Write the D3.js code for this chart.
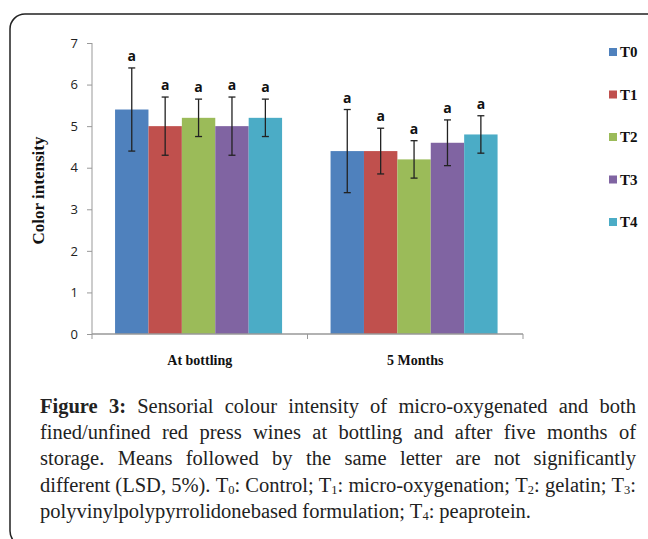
<!DOCTYPE html>
<html>
<head>
<meta charset="utf-8">
<script src="https://d3js.org/d3.v7.min.js"></script>
<style>
  body { margin: 0; background: #fff; }
</style>
</head>
<body>
<div id="chart"></div>
<script>
var categories = ['At bottling', '5 Months'];
var treatments = ['T0', 'T1', 'T2', 'T3', 'T4'];
var colors = ['#4F81BD', '#C0504D', '#9BBB59', '#8064A2', '#4BACC6'];
var meansBottling = [5.4, 5.0, 5.2, 5.0, 5.2];
var meansMonths = [4.4, 4.4, 4.2, 4.6, 4.8];
var errBottling = [1.0, 0.7, 0.45, 0.7, 0.45];
var errMonths = [1.0, 0.55, 0.45, 0.55, 0.45];
var letters = ['a', 'a', 'a', 'a', 'a'];
var yTicks = [0, 1, 2, 3, 4, 5, 6, 7];

// caption lines, [text, kind] where kind: b = bold, s = subscript
var captionLines = [
    [['Figure 3:', 'b'], [' Sensorial colour intensity of micro-oxygenated and both', '']],
    [['fined/unfined red press wines at bottling and after five months of', '']],
    [['storage. Means followed by the same letter are not significantly', '']],
    [['different (LSD, 5%). T', ''], ['0', 's'], [': Control; T', ''], ['1', 's'], [': micro-oxygenation; T', ''], ['2', 's'], [': gelatin; T', ''], ['3', 's'], [':', '']],
    [['polyvinylpolypyrrolidonebased formulation; T', ''], ['4', 's'], [': peaprotein.', '']]
];

var width = 648, height = 539;
var svg = d3.select('#chart').append('svg')
    .attr('width', width)
    .attr('height', height);

// frame
svg.append('rect')
    .attr('x', 10).attr('y', 14)
    .attr('width', 680).attr('height', 532)
    .attr('rx', 15).attr('ry', 15)
    .attr('fill', 'none')
    .attr('stroke', '#222')
    .attr('stroke-width', 1.5);

var padding = {top: 43, left: 92, right: 523, bottom: 334};

var yScale = d3.scaleLinear().domain([0, 7]).range([padding.bottom, padding.top]);
var x0 = d3.scaleBand().domain(categories).range([padding.left, padding.right]);
var bw = x0.bandwidth();
var x1 = d3.scaleBand().domain(treatments).range([bw * 0.107, bw * 0.882]);

var data = [];
categories.forEach(function(c, ci){
    var means = ci == 0 ? meansBottling : meansMonths;
    var errs = ci == 0 ? errBottling : errMonths;
    treatments.forEach(function(t, ti){
        data.push({cat: c, t: t, v: means[ti], e: errs[ti], color: colors[ti], letter: letters[ti]});
    });
});

var plot = svg.append('g').attr('class', 'plot');

plot.selectAll('rect.bar')
    .data(data)
    .enter()
    .append('rect')
    .attr('class', 'bar')
    .attr('x', function(d){ return x0(d.cat) + x1(d.t); })
    .attr('y', function(d){ return yScale(d.v); })
    .attr('width', x1.bandwidth())
    .attr('height', function(d){ return yScale(0) - yScale(d.v); })
    .attr('fill', function(d){ return d.color; });

// error bars
var eb = plot.selectAll('g.err')
    .data(data)
    .enter()
    .append('g')
    .attr('class', 'err')
    .attr('stroke', '#222')
    .attr('stroke-width', 1.3);

function cx(d){ return x0(d.cat) + x1(d.t) + x1.bandwidth() / 2; }

eb.append('line')
    .attr('x1', cx).attr('x2', cx)
    .attr('y1', function(d){ return yScale(d.v + d.e); })
    .attr('y2', function(d){ return yScale(d.v - d.e); });
eb.append('line')
    .attr('x1', function(d){ return cx(d) - 3.5; }).attr('x2', function(d){ return cx(d) + 3.5; })
    .attr('y1', function(d){ return yScale(d.v + d.e); })
    .attr('y2', function(d){ return yScale(d.v + d.e); });
eb.append('line')
    .attr('x1', function(d){ return cx(d) - 3.5; }).attr('x2', function(d){ return cx(d) + 3.5; })
    .attr('y1', function(d){ return yScale(d.v - d.e); })
    .attr('y2', function(d){ return yScale(d.v - d.e); });

plot.selectAll('text.letter')
    .data(data)
    .enter()
    .append('text')
    .attr('class', 'letter')
    .attr('x', cx)
    .attr('y', function(d){ return yScale(d.v + d.e) - 7; })
    .attr('text-anchor', 'middle')
    .attr('font-family', 'Open Sans, DejaVu Sans, sans-serif')
    .attr('font-weight', 'bold')
    .attr('font-size', 14)
    .attr('fill', '#111')
    .text(function(d){ return d.letter; });

// axes
var yAxis = d3.axisLeft(yScale).tickValues(yTicks).tickSize(5).tickPadding(9).tickFormat(d3.format('d'));
var gy = svg.append('g')
    .attr('transform', 'translate(' + padding.left + ',0)')
    .call(yAxis);
gy.select('.domain').remove();
gy.append('line')
    .attr('x1', 0).attr('x2', 0)
    .attr('y1', padding.top).attr('y2', padding.bottom + 5)
    .attr('stroke', '#999');
gy.selectAll('.tick line').attr('stroke', '#999');
gy.selectAll('.tick text')
    .attr('font-family', 'Open Sans, DejaVu Sans, sans-serif')
    .attr('font-size', 13)
    .attr('fill', '#222');

var gx = svg.append('g');
gx.append('line')
    .attr('x1', padding.left).attr('x2', padding.right)
    .attr('y1', padding.bottom).attr('y2', padding.bottom)
    .attr('stroke', '#999').attr('stroke-width', 1.3);
gx.selectAll('line.xt')
    .data(categories)
    .enter()
    .append('line')
    .attr('class', 'xt')
    .attr('x1', function(d){ return x0(d) + bw; })
    .attr('x2', function(d){ return x0(d) + bw; })
    .attr('y1', padding.bottom).attr('y2', padding.bottom + 5)
    .attr('stroke', '#999');
gx.selectAll('text')
    .data(categories)
    .enter()
    .append('text')
    .attr('x', function(d){ return x0(d) + bw / 2; })
    .attr('y', 365)
    .attr('text-anchor', 'middle')
    .attr('font-family', 'Liberation Serif, serif')
    .attr('font-weight', 'bold')
    .attr('font-size', 14)
    .attr('fill', '#111')
    .text(function(d){ return d; });

svg.append('text')
    .attr('transform', 'translate(44,' + ((padding.top + padding.bottom) / 2 + 2) + ') rotate(-90)')
    .attr('text-anchor', 'middle')
    .attr('font-family', 'Liberation Serif, serif')
    .attr('font-weight', 'bold')
    .attr('font-size', 17)
    .attr('fill', '#111')
    .text('Color intensity');

// legend
var legend = svg.selectAll('g.legend')
    .data(treatments)
    .enter()
    .append('g')
    .attr('class', 'legend')
    .attr('transform', function(d, i){ return 'translate(609,' + (52 + i * 42.5) + ')'; });
legend.append('rect')
    .attr('x', 0).attr('y', -4)
    .attr('width', 8).attr('height', 8)
    .attr('fill', function(d, i){ return colors[i]; });
legend.append('text')
    .attr('x', 11).attr('y', 5)
    .attr('font-family', 'Liberation Serif, serif')
    .attr('font-weight', 'bold')
    .attr('font-size', 15)
    .attr('fill', '#111')
    .text(function(d){ return d; });

// caption: words laid out one by one, justified except the last line
var capLeft = 40, capWidth = 596;
var cap = svg.append('g')
    .attr('font-family', 'Liberation Serif, serif')
    .attr('font-size', 20.5)
    .attr('fill', '#222');

captionLines.forEach(function(line, li){
    var words = [[]];
    line.forEach(function(seg){
        if (seg[1] == 's') {
            words[words.length - 1].push(seg);
            return;
        }
        var parts = seg[0].split(' ');
        parts.forEach(function(p, pi){
            if (pi > 0) words.push([]);
            if (p.length) words[words.length - 1].push([p, seg[1]]);
        });
    });
    words = words.filter(function(w){ return w.length; });

    var y = 413 + li * 26.2;
    var nodes = words.map(function(w){
        var t = cap.append('text').attr('y', y);
        var shifted = false;
        w.forEach(function(seg){
            var ts = t.append('tspan').text(seg[0]);
            if (seg[1] == 'b') ts.attr('font-weight', 'bold');
            if (seg[1] == 's') {
                ts.attr('font-size', 12.5).attr('dy', 2);
                shifted = true;
            } else if (shifted) {
                ts.attr('dy', -2);
                shifted = false;
            }
        });
        return t;
    });
    var widths = nodes.map(function(n){ return n.node().getComputedTextLength(); });
    var total = d3.sum(widths);
    var gap = li < captionLines.length - 1 ? Math.max(3, (capWidth - total) / (nodes.length - 1)) : 5;
    var x = capLeft;
    nodes.forEach(function(n, i){
        n.attr('x', x);
        x += widths[i] + gap;
    });
});
</script>
</body>
</html>
